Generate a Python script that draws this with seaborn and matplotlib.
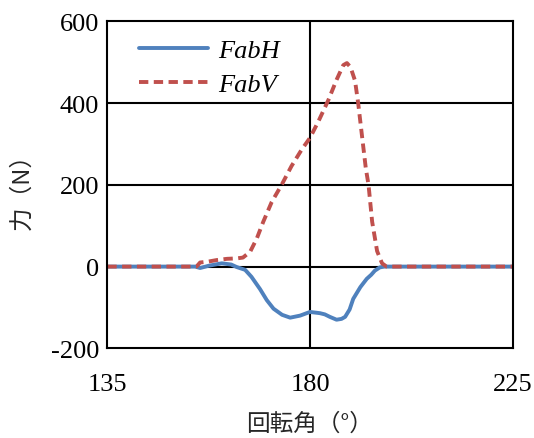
import pandas as pd
import matplotlib
matplotlib.use("Agg")
import matplotlib.pyplot as plt
import seaborn as sns

# rotation angle (deg) and force (N)
fabh_angle = [135, 150, 154.5, 155.6, 157.5, 160.4, 162.5, 163.7, 165.6, 167.0, 168.9, 170.4,
              171.9, 173.8, 175.6, 177.8, 180.0, 182.2, 183.3, 184.4, 185.9, 187.0, 187.8,
              188.8, 189.6, 191.2, 192.6, 193.6, 194.4, 195.5, 196.5, 197.7, 210, 225]
fabh_force = [0, 0, 0, -3.5, 2, 8, 5, -1, -8, -25, -55, -82,
              -103, -118, -125, -120, -111, -114, -117, -123, -130, -128, -123,
              -105, -79, -50, -30, -20, -10, -2, 0, 0, 0, 0]

fabv_angle = [135, 150, 154.8, 155.6, 157.3, 159.3, 161.6, 163.7, 165.1, 166.7, 168.2,
              169.6, 171.5, 173.7, 175.9, 178.2, 180.0, 181.9, 184.1, 185.9, 187.4,
              188.2, 189.0, 190.0, 190.7, 191.6, 192.4, 193.0, 193.8, 194.9, 196.0,
              197.0, 210, 225]
fabv_force = [0, 0, 0, 10, 12, 16, 19, 20, 22, 36, 69,
              109, 158, 200, 246, 287, 315, 356, 408, 457, 493,
              498, 488, 455, 400, 315, 240, 200, 110, 38, 8,
              0, 0, 0]

df = pd.concat([
    pd.DataFrame({"angle": fabh_angle, "force": fabh_force, "series": "FabH"}),
    pd.DataFrame({"angle": fabv_angle, "force": fabv_force, "series": "FabV"}),
])

sns.set_style("white")
plt.rcParams["font.family"] = ["Liberation Serif", "Noto Sans CJK JP"]
plt.rcParams["axes.unicode_minus"] = False
plt.rcParams["text.color"] = "black"

fig = plt.figure(figsize=(5.34, 4.39), dpi=100)
ax = fig.add_axes([0.201, 0.2043, 0.759, 0.7447])

sns.lineplot(data=df, x="angle", y="force", hue="series", style="series",
             palette={"FabH": "#4F81BD", "FabV": "#C0504D"},
             dashes={"FabH": "", "FabV": (2.4, 1.4)},
             linewidth=2.8, sort=False, estimator=None, ax=ax)

ax.set_xlim(135, 225)
ax.set_ylim(-200, 600)
ax.set_xticks([135, 180, 225])
ax.set_yticks([-200, 0, 200, 400, 600])
ax.tick_params(length=0, labelsize=19, colors="black")
ax.tick_params(axis="x", pad=18)
ax.tick_params(axis="y", pad=6)

for y in [0, 200, 400]:
    ax.axhline(y, color="black", lw=1.5, zorder=0)
ax.axvline(180, color="black", lw=1.5, zorder=0)
for s in ax.spines.values():
    s.set_color("black")
    s.set_linewidth(1.5)

ax.set_xlabel("回転角（°）", fontsize=17, family=["Noto Sans CJK JP"], labelpad=12)
ax.set_ylabel("力（N）", fontsize=17, family=["Noto Sans CJK JP"], labelpad=12)

leg = ax.legend(loc="upper left", frameon=False, handlelength=2.6,
                prop={"family": "Liberation Serif", "style": "italic", "size": 19},
                bbox_to_anchor=(0.02, 1.02), labelspacing=0.4, handletextpad=0.4)

fig.savefig("out.png", dpi=100)
plt.close(fig)
